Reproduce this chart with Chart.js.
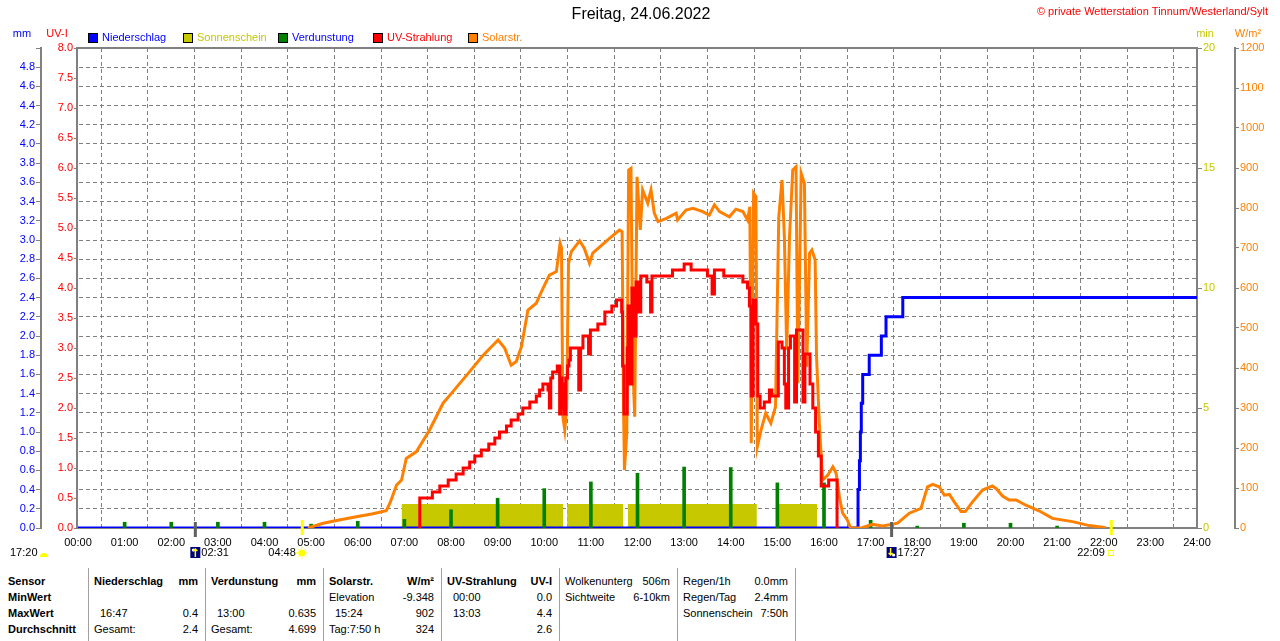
<!DOCTYPE html>
<html lang="de">
<head>
<meta charset="utf-8">
<title>Wetterstation Tinnum - 24.06.2022</title>
<script src="https://cdn.jsdelivr.net/npm/chart.js@4.4.1/dist/chart.umd.min.js"></script>
<style>
  html, body { margin: 0; padding: 0; background: #fff; }
  body { width: 1280px; height: 641px; overflow: hidden; position: relative;
         font-family: "Liberation Sans", Arial, sans-serif; font-size: 11px; color: #000; }
  #chartBox { position: absolute; left: 0; top: 0; width: 1280px; height: 566px; }
  #stats { position: absolute; left: 0; top: 566px; width: 1280px; height: 75px; }
  .col { position: absolute; top: 2px; bottom: 0; padding-top: 5px; box-sizing: border-box; }
  .sep { border-left: 1px solid #a0a0a0; }
  .row { height: 16px; line-height: 16px; display: flex; justify-content: space-between; white-space: nowrap; }
  .b { font-weight: bold; }
  .ind { padding-left: 6px; }
</style>
</head>
<body>
<div id="chartBox"><canvas id="wx" width="1280" height="566"></canvas></div>
<div id="stats"></div>
<script>
// --- Werte aus der Grafik (Zeit in Stunden) ---
const hourLabels = ['00:00', '01:00', '02:00', '03:00', '04:00', '05:00', '06:00', '07:00', '08:00',
  '09:00', '10:00', '11:00', '12:00', '13:00', '14:00', '15:00', '16:00', '17:00', '18:00',
  '19:00', '20:00', '21:00', '22:00', '23:00', '24:00'];

// Niederschlag (mm, Summe)
const rainTime = [0, 16.73, 16.76, 16.78, 16.80, 16.83, 16.97, 17.23, 17.33, 17.69, 24];
const rainValue = [0, 0.4, 0.7, 1.0, 1.3, 1.6, 1.8, 2.0, 2.2, 2.4, 2.4];

// Sonnenschein (min) - Bloecke
const sunStart = [6.94, 10.49, 11.79, 15.02];
const sunEnd = [10.41, 11.70, 14.56, 15.85];
const sunLevel = [1, 1, 1, 1];

// Verdunstung (mm pro Stunde)
const evapHour = [1, 2, 3, 4, 5, 6, 7, 8, 9, 10, 11, 12, 13, 14, 15, 16, 17, 18, 19, 20, 21];
const evapValue = [0.06, 0.06, 0.06, 0.06, 0.04, 0.07, 0.09, 0.19, 0.31, 0.41, 0.48, 0.57,
  0.635, 0.63, 0.47, 0.47, 0.08, 0.02, 0.05, 0.05, 0.02];

// UV-Strahlung (UV-I)
const uvTime = [7.32, 7.33, 7.60, 7.76, 7.94, 8.11, 8.26, 8.40, 8.51, 8.65,
  8.81, 8.94, 9.04, 9.19, 9.29, 9.44, 9.54, 9.69, 9.83, 9.90,
  9.97, 10.08, 10.11, 10.14, 10.18, 10.28, 10.33, 10.36, 10.38, 10.41,
  10.43, 10.46, 10.50, 10.53, 10.56, 10.74, 10.78, 10.83, 10.95, 10.99,
  11.15, 11.30, 11.45, 11.55, 11.66, 11.68, 11.71, 11.78, 11.80, 11.83,
  11.88, 11.92, 11.97, 12.03, 12.07, 12.20, 12.28, 12.31, 12.55, 12.75,
  13.00, 13.15, 13.50, 13.60, 13.65, 13.85, 14.26, 14.36, 14.40, 14.44,
  14.48, 14.53, 14.58, 14.63, 14.72, 14.83, 14.88, 15.02, 15.10, 15.15,
  15.18, 15.24, 15.28, 15.37, 15.41, 15.55, 15.59, 15.70, 15.76, 15.82,
  15.88, 15.94, 16.10, 16.28];
const uvValue = [0, 0.5, 0.6, 0.7, 0.8, 0.9, 1.0, 1.1, 1.2, 1.3,
  1.4, 1.5, 1.6, 1.7, 1.8, 1.9, 2.0, 2.1, 2.2, 2.3,
  2.4, 2.3, 2.0, 2.5, 2.6, 2.7, 1.9, 2.5, 2.0, 2.4,
  1.9, 2.5, 2.7, 2.8, 3.0, 2.3, 3.0, 3.2, 2.9, 3.3,
  3.4, 3.6, 3.7, 3.8, 3.6, 2.7, 1.9, 3.0, 3.7, 2.4,
  4.0, 3.2, 4.1, 3.6, 4.2, 4.1, 3.6, 4.2, 4.2, 4.3,
  4.4, 4.3, 4.2, 3.9, 4.3, 4.2, 4.1, 4.0, 3.7, 2.2,
  3.8, 3.4, 2.2, 2.0, 2.1, 2.3, 2.2, 3.1, 3.0, 2.4,
  2.0, 3.0, 3.2, 2.1, 3.3, 2.1, 2.9, 2.4, 2.0, 1.6,
  1.2, 0.7, 0.8, 0];

// Solarstrahlung (W/m2)
const solarTime = [4.93, 5.26, 5.6, 5.97, 6.3, 6.61, 6.69, 6.83, 6.94, 7.04,
  7.26, 7.54, 7.83, 8.04, 8.4, 8.69, 9.01, 9.15, 9.29, 9.4,
  9.51, 9.65, 9.83, 9.94, 10.11, 10.26, 10.34, 10.37, 10.4, 10.44,
  10.48, 10.52, 10.58, 10.76, 10.86, 10.97, 11.04, 11.19, 11.4, 11.61,
  11.67, 11.7, 11.72, 11.77, 11.81, 11.86, 11.9, 11.94, 11.99, 12.06,
  12.11, 12.22, 12.29, 12.36, 12.44, 12.62, 12.83, 12.86, 13.04, 13.19,
  13.4, 13.54, 13.65, 13.76, 13.97, 14.11, 14.26, 14.36, 14.41, 14.44,
  14.49, 14.54, 14.57, 14.65, 14.75, 14.86, 14.96, 15.03, 15.1, 15.15,
  15.2, 15.26, 15.33, 15.4, 15.44, 15.51, 15.58, 15.63, 15.69, 15.74,
  15.81, 15.84, 15.9, 15.97, 16.08, 16.19, 16.26, 16.33, 16.4, 16.5,
  16.57, 16.8, 17.04, 17.26, 17.58, 17.83, 18.08, 18.22, 18.33, 18.47,
  18.58, 18.69, 18.79, 18.94, 19.03, 19.19, 19.4, 19.61, 19.69, 19.83,
  19.97, 20.12, 20.33, 20.61, 20.9, 21.33, 21.69, 21.97, 22.05];
const solarValue = [0, 12, 20, 28, 35, 43, 62, 107, 120, 174,
  191, 245, 312, 341, 391, 432, 470, 450, 407, 416,
  453, 545, 562, 591, 632, 641, 712, 700, 278, 245,
  300, 660, 691, 718, 699, 662, 687, 703, 724, 745,
  741, 312, 145, 237, 895, 899, 412, 278, 878, 745,
  845, 812, 845, 787, 766, 774, 787, 770, 795, 799,
  791, 782, 808, 791, 778, 797, 791, 770, 803, 212,
  837, 828, 203, 245, 287, 262, 303, 778, 870, 728,
  445, 728, 895, 903, 362, 887, 862, 403, 687, 695,
  670, 428, 262, 120, 132, 153, 137, 78, 37, 20,
  0, 0, 9, 5, 12, 37, 49, 103, 109, 103,
  82, 84, 66, 41, 41, 66, 95, 105, 99, 80,
  70, 70, 57, 43, 24, 16, 6, 2, 0];

// Mond / Sonne
const prevLabel = '17:20';
const moonEvents = ['02:31', '17:27'];
const sunEvents = ['04:48', '22:09'];

// Tabelle unten
const statRows = ['Sensor', 'MinWert', 'MaxWert', 'Durchschnitt'];
const statCols = [
  { bold: true, rows: [['Niederschlag', 'mm'], ['', ''], ['16:47', '0.4'], ['Gesamt:', '2.4']] },
  { bold: true, rows: [['Verdunstung', 'mm'], ['', ''], ['13:00', '0.635'], ['Gesamt:', '4.699']] },
  { bold: true, rows: [['Solarstr.', 'W/m²'], ['Elevation', '-9.348'], ['15:24', '902'], ['Tag:7:50 h', '324']] },
  { bold: true, rows: [['UV-Strahlung', 'UV-I'], ['00:00', '0.0'], ['13:03', '4.4'], ['', '2.6']] },
  { bold: false, rows: [['Wolkenunterg', '506m'], ['Sichtweite', '6-10km'], ['', ''], ['', '']] },
  { bold: false, rows: [['Regen/1h', '0.0mm'], ['Regen/Tag', '2.4mm'], ['Sonnenschein', '7:50h'], ['', '']] }
];

// --- Hilfsfunktionen ---
const FONT = '11px "Liberation Sans", Arial, sans-serif';
const pairs = (xs, ys) => xs.map((x, i) => ({ x: x, y: ys[i] }));
const hm = s => { const p = s.split(':').map(Number); return p[0] + p[1] / 60; };

const sunPoints = [];
sunStart.forEach((s, i) => {
  sunPoints.push({ x: s, y: sunLevel[i] }, { x: sunEnd[i], y: sunLevel[i] });
  if (i < sunStart.length - 1) sunPoints.push({ x: (sunEnd[i] + sunStart[i + 1]) / 2, y: null });
});

Chart.defaults.font.family = '"Liberation Sans", Arial, sans-serif';
Chart.defaults.font.size = 11;
Chart.defaults.color = '#000';

const decor = {
  id: 'decor',
  beforeDatasetsDraw(chart) {
    const { ctx, chartArea: a } = chart;
    ctx.save();
    ctx.strokeStyle = '#808080';
    ctx.lineWidth = 2;
    ctx.strokeRect(a.left - 1, a.top, a.right - a.left + 1, a.bottom - a.top);
    ctx.restore();
  },
  afterDraw(chart) {
    const { ctx } = chart;
    const xs = chart.scales.x;
    ctx.save();
    ctx.textBaseline = 'middle';

    // Titel
    ctx.font = '16px "Liberation Sans", Arial, sans-serif';
    ctx.fillStyle = '#000';
    ctx.textAlign = 'center';
    ctx.fillText('Freitag, 24.06.2022', 641, 15);

    ctx.font = FONT;
    ctx.fillStyle = '#ff0000';
    ctx.textAlign = 'right';
    ctx.fillText('© private Wetterstation Tinnum/Westerland/Sylt', 1268, 12);

    // Legende
    ctx.textAlign = 'left';
    chart.data.datasets.forEach((ds, i) => {
      const x = 88 + i * 95;
      ctx.fillStyle = ds.legendBox;
      ctx.fillRect(x, 33, 10, 10);
      ctx.strokeStyle = '#000';
      ctx.lineWidth = 1;
      ctx.strokeRect(x + 0.5, 33.5, 9, 9);
      ctx.fillStyle = ds.legendText;
      ctx.fillText(ds.label, x + 14, 38);
    });

    // Achsentitel
    ctx.textAlign = 'center';
    ctx.fillStyle = '#0000ff'; ctx.fillText('mm', 22, 34);
    ctx.fillStyle = '#ff0000'; ctx.fillText('UV-I', 57, 34);
    ctx.fillStyle = '#c8c800'; ctx.fillText('min', 1205, 34);
    ctx.fillStyle = '#ff8000'; ctx.fillText('W/m²', 1248, 34);

    // Vortag
    ctx.fillStyle = '#000';
    ctx.textAlign = 'left';
    ctx.fillText(prevLabel, 10, 553);
    ctx.fillStyle = '#ffff00';
    ctx.beginPath(); ctx.arc(44, 557, 4, Math.PI, 0); ctx.fill();

    // Mond
    moonEvents.forEach((t, i) => {
      const px = xs.getPixelForValue(hm(t));
      ctx.fillStyle = '#606060';
      ctx.fillRect(px - 1.5, 522, 3, 15);
      ctx.fillStyle = '#000080';
      ctx.fillRect(px - 5, 547, 10, 11);
      ctx.fillStyle = '#ffffff';
      ctx.beginPath();
      ctx.arc(i === 0 ? px - 2 : px + 2, i === 0 ? 550 : 555, 1.6, 0, Math.PI * 2);
      ctx.fill();
      ctx.strokeStyle = '#ffff00';
      ctx.lineWidth = 1.5;
      ctx.beginPath();
      if (i === 0) {
        ctx.moveTo(px, 557); ctx.lineTo(px, 549);
        ctx.moveTo(px - 2, 551); ctx.lineTo(px, 549); ctx.lineTo(px + 2, 551);
      } else {
        ctx.moveTo(px - 1, 548); ctx.lineTo(px - 1, 555);
        ctx.moveTo(px - 3, 553); ctx.lineTo(px - 1, 555); ctx.lineTo(px + 1, 553);
      }
      ctx.stroke();
      ctx.fillStyle = '#000';
      ctx.textAlign = 'left';
      ctx.fillText(t, px + 6, 553);
    });

    // Sonne
    sunEvents.forEach((t, i) => {
      const px = xs.getPixelForValue(hm(t));
      ctx.fillStyle = '#ffff00';
      ctx.fillRect(px - 1, 520, 3, 15);
      if (i === 0) {
        ctx.beginPath(); ctx.arc(px, 553, 3.5, 0, Math.PI * 2); ctx.fill();
        ctx.strokeStyle = '#ffff00';
        ctx.lineWidth = 1;
        ctx.beginPath();
        for (let k = 0; k < 8; k++) {
          const w = k * Math.PI / 4;
          ctx.moveTo(px + Math.cos(w) * 4.5, 553 + Math.sin(w) * 4.5);
          ctx.lineTo(px + Math.cos(w) * 6, 553 + Math.sin(w) * 6);
        }
        ctx.stroke();
      } else {
        ctx.strokeStyle = '#ffff00';
        ctx.lineWidth = 1;
        ctx.strokeRect(px - 2.5, 550.5, 5, 5);
      }
      ctx.fillStyle = '#000';
      ctx.textAlign = 'right';
      ctx.fillText(t, px - 6, 553);
    });
    ctx.restore();
  }
};

new Chart(document.getElementById('wx'), {
  type: 'line',
  data: {
    datasets: [
      {
        label: 'Niederschlag', type: 'line', yAxisID: 'mm', data: pairs(rainTime, rainValue),
        borderColor: '#0000ff', borderWidth: 3, stepped: 'before', pointRadius: 0, order: 3,
        legendBox: '#0000ff', legendText: '#0000ff'
      },
      {
        label: 'Sonnenschein', type: 'line', yAxisID: 'sun', data: sunPoints,
        borderColor: '#c8c800', backgroundColor: '#c8c800', borderWidth: 0, fill: 'origin',
        pointRadius: 0, order: 4, legendBox: '#c8c800', legendText: '#c8c800'
      },
      {
        label: 'Verdunstung', type: 'bar', yAxisID: 'mm', data: pairs(evapHour, evapValue),
        backgroundColor: '#008000', barThickness: 3, order: 2,
        legendBox: '#008000', legendText: '#0000ff'
      },
      {
        label: 'UV-Strahlung', type: 'line', yAxisID: 'uv', data: pairs(uvTime, uvValue),
        borderColor: '#ff0000', borderWidth: 3, stepped: 'before', pointRadius: 0, order: 0,
        legendBox: '#ff0000', legendText: '#ff0000'
      },
      {
        label: 'Solarstr.', type: 'line', yAxisID: 'wm', data: pairs(solarTime, solarValue),
        borderColor: '#ff8000', borderWidth: 3, pointRadius: 0, order: 1,
        legendBox: '#ff8000', legendText: '#ff8000'
      }
    ]
  },
  options: {
    responsive: false,
    animation: false,
    devicePixelRatio: 1,
    events: [],
    layout: { padding: { top: 48, left: 0, right: 0, bottom: 0 } },
    plugins: { legend: { display: false }, title: { display: false }, tooltip: { enabled: false } },
    scales: {
      x: {
        type: 'linear', min: 0, max: 24, offset: false,
        afterFit: s => { s.height = 38; },
        ticks: { stepSize: 1, autoSkip: false, maxRotation: 0, padding: 8, color: '#000',
          callback: v => hourLabels[v] },
        grid: { color: '#808080', drawTicks: false },
        border: { display: false, dash: [4, 3] }
      },
      mm: {
        type: 'linear', position: 'left', weight: 2, min: 0, max: 5,
        afterFit: s => { s.width = 41; },
        ticks: { stepSize: 0.2, autoSkip: false, padding: 1, color: '#0000ff',
          callback: v => (v > 4.85 ? '' : v.toFixed(1)) },
        grid: { color: '#808080', tickLength: 5 },
        border: { display: true, color: '#808080', width: 2, dash: [4, 3] }
      },
      uv: {
        type: 'linear', position: 'left', weight: 1, min: 0, max: 8,
        afterFit: s => { s.width = 37; },
        ticks: { stepSize: 0.5, autoSkip: false, padding: 1, color: '#ff0000', callback: v => v.toFixed(1) },
        grid: { drawOnChartArea: false, color: '#808080', tickLength: 4 },
        border: { display: false }
      },
      sun: {
        type: 'linear', position: 'right', weight: 1, min: 0, max: 20,
        afterFit: s => { s.width = 38; },
        ticks: { stepSize: 5, autoSkip: false, padding: 1, color: '#c8c800', callback: v => String(v) },
        grid: { drawOnChartArea: false, color: '#808080', tickLength: 5 },
        border: { display: false }
      },
      wm: {
        type: 'linear', position: 'right', weight: 2, min: 0, max: 1200,
        afterFit: s => { s.width = 45; },
        ticks: { stepSize: 100, autoSkip: false, padding: 1, color: '#ff8000', callback: v => String(v) },
        grid: { drawOnChartArea: false, color: '#808080', tickLength: 4 },
        border: { display: true, color: '#808080', width: 2 }
      }
    }
  },
  plugins: [decor]
});

// Tabelle
const stats = document.getElementById('stats');
const colEdges = [0, 88, 205, 323, 441, 559, 677, 795];
const isTime = s => /^\d\d:\d\d$/.test(s);

function cell(text, cls) {
  const span = document.createElement('span');
  span.textContent = text;
  if (cls) span.className = cls;
  return span;
}

for (let c = 0; c < colEdges.length - 1; c++) {
  const col = document.createElement('div');
  col.className = c > 0 ? 'col sep' : 'col';
  col.style.left = colEdges[c] + 'px';
  col.style.width = (colEdges[c + 1] - colEdges[c]) + 'px';
  col.style.paddingLeft = c > 0 ? '5px' : '8px';
  col.style.paddingRight = '7px';
  for (let r = 0; r < 4; r++) {
    const row = document.createElement('div');
    row.className = 'row';
    if (c === 0) {
      row.appendChild(cell(statRows[r], 'b'));
    } else {
      const def = statCols[c - 1];
      const pair = def.rows[r];
      let cls = (r === 0 && def.bold) ? 'b' : '';
      const left = cell(pair[0], (cls + (isTime(pair[0]) ? ' ind' : '')).trim());
      row.appendChild(left);
      row.appendChild(cell(pair[1], cls));
    }
    col.appendChild(row);
  }
  stats.appendChild(col);
}
const lastSep = document.createElement('div');
lastSep.className = 'col sep';
lastSep.style.left = colEdges[colEdges.length - 1] + 'px';
lastSep.style.width = '0px';
stats.appendChild(lastSep);
</script>
</body>
</html>
